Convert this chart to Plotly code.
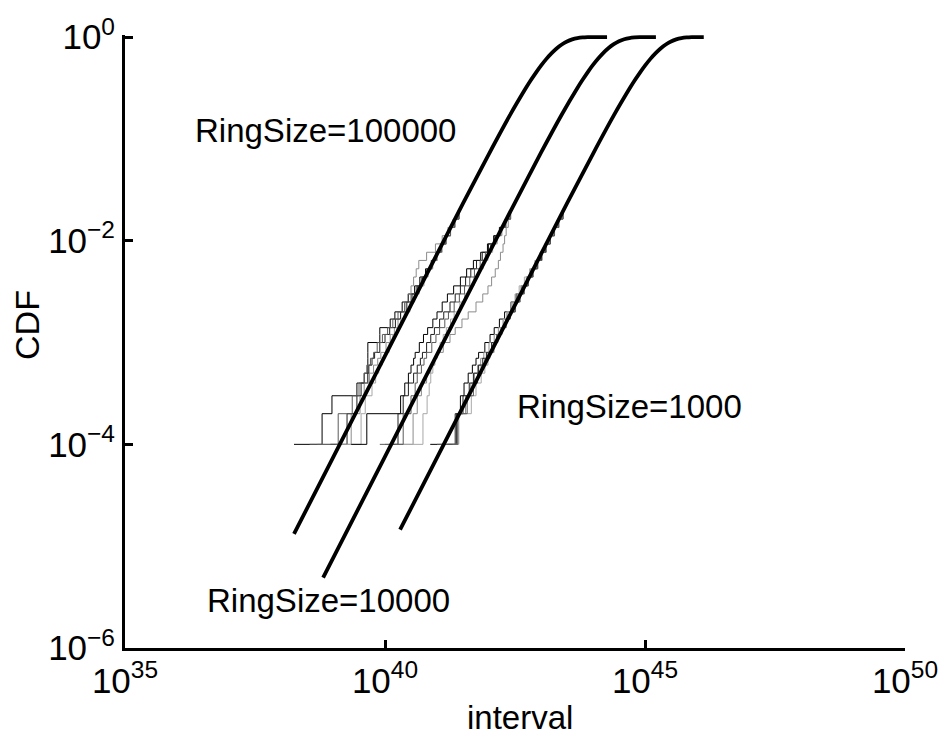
import numpy as np
import plotly.graph_objects as go

# ---- data -----------------------------------------------------------------
# Number of samples behind each empirical CDF, and the sample counts at which
# the step curves are drawn.
N_SAMPLES = 10000
COUNTS = [1, 2, 3, 4, 5, 6, 7, 8, 10, 12, 14, 17, 20, 25, 30, 36, 44, 53, 64,
          77, 93, 112, 135, 163, 196]

# Empirical CDFs: log10(interval) reached at each count in COUNTS.
# RingSize = 100000
EMP_100000 = [
    [38.25, 38.79, 38.98, 39.46, 39.67, 39.67, 39.67, 39.67, 39.67, 39.90, 39.90,
     40.10, 40.19, 40.33, 40.45, 40.57, 40.67, 40.78, 40.89, 40.98, 41.08, 41.17,
     41.26, 41.34, 41.42],
    [38.70, 39.35, 39.52, 39.60, 39.70, 39.78, 39.86, 39.92, 40.02, 40.10, 40.18,
     40.25, 40.30, 40.38, 40.44, 40.50, 40.55, 40.60, 40.65, 40.80, 40.97, 41.10,
     41.21, 41.31, 41.40],
    [38.95, 39.27, 39.46, 39.54, 39.60, 39.69, 39.75, 39.80, 39.90, 40.00, 40.09,
     40.20, 40.30, 40.42, 40.52, 40.62, 40.72, 40.81, 40.91, 41.00, 41.09, 41.18,
     41.26, 41.34, 41.42],
    [39.05, 39.54, 39.62, 39.75, 39.82, 39.88, 39.95, 40.00, 40.08, 40.15, 40.22,
     40.30, 40.37, 40.48, 40.57, 40.66, 40.75, 40.83, 40.92, 41.01, 41.10, 41.18,
     41.26, 41.34, 41.42],
    [38.55, 39.10, 39.37, 39.50, 39.60, 39.65, 39.72, 39.78, 39.85, 39.95, 40.05,
     40.15, 40.25, 40.38, 40.50, 40.60, 40.70, 40.80, 40.90, 40.99, 41.08, 41.17,
     41.26, 41.34, 41.42],
]
# RingSize = 10000
EMP_10000 = [
    [39.35, 39.65, 40.30, 40.38, 40.45, 40.50, 40.55, 40.58, 40.66, 40.74, 40.82,
     40.92, 41.00, 41.10, 41.20, 41.32, 41.45, 41.57, 41.70, 41.84, 41.97, 42.09,
     42.20, 42.31, 42.41],
    [40.00, 40.54, 40.62, 40.70, 40.80, 40.88, 40.95, 41.00, 41.12, 41.25, 41.35,
     41.48, 41.60, 41.75, 41.88, 41.98, 42.05, 42.12, 42.18, 42.22, 42.27, 42.30,
     42.33, 42.37, 42.42],
    [40.10, 40.25, 40.35, 40.45, 40.55, 40.62, 40.68, 40.72, 40.80, 40.88, 40.95,
     41.05, 41.13, 41.25, 41.35, 41.45, 41.55, 41.65, 41.76, 41.87, 41.99, 42.10,
     42.21, 42.32, 42.41],
    [40.20, 40.73, 40.81, 40.85, 40.88, 40.92, 40.96, 41.00, 41.06, 41.12, 41.18,
     41.26, 41.33, 41.44, 41.53, 41.62, 41.71, 41.80, 41.89, 41.98, 42.07, 42.16,
     42.25, 42.33, 42.41],
    [39.90, 40.35, 40.50, 40.58, 40.62, 40.70, 40.75, 40.80, 40.90, 40.98, 41.05,
     41.15, 41.22, 41.33, 41.43, 41.53, 41.63, 41.72, 41.83, 41.93, 42.03, 42.13,
     42.23, 42.32, 42.41],
]
# RingSize = 1000
EMP_1000 = [
    [40.87, 41.38, 41.45, 41.52, 41.60, 41.68, 41.75, 41.80, 41.92, 42.02, 42.10,
     42.20, 42.30, 42.42, 42.52, 42.62, 42.72, 42.81, 42.90, 42.99, 43.08, 43.17,
     43.25, 43.33, 43.42],
    [41.05, 41.40, 41.55, 41.65, 41.72, 41.78, 41.84, 41.90, 42.00, 42.10, 42.18,
     42.27, 42.35, 42.46, 42.55, 42.63, 42.72, 42.82, 42.92, 43.01, 43.09, 43.18,
     43.26, 43.34, 43.42],
    [41.20, 41.35, 41.50, 41.62, 41.70, 41.80, 41.88, 41.95, 42.05, 42.15, 42.23,
     42.32, 42.40, 42.50, 42.58, 42.66, 42.75, 42.84, 42.93, 43.01, 43.09, 43.18,
     43.26, 43.34, 43.42],
    [41.30, 41.42, 41.66, 41.75, 41.85, 41.92, 41.98, 42.02, 42.10, 42.16, 42.22,
     42.28, 42.34, 42.42, 42.50, 42.58, 42.68, 42.78, 42.88, 42.98, 43.07, 43.16,
     43.25, 43.33, 43.42],
    [41.00, 41.40, 41.58, 41.70, 41.78, 41.85, 41.92, 41.98, 42.08, 42.17, 42.25,
     42.33, 42.41, 42.51, 42.60, 42.68, 42.76, 42.85, 42.94, 43.02, 43.10, 43.18,
     43.26, 43.34, 43.42],
]
EMP_COLORS = ["#000000", "#8c8c8c", "#1e1e1e", "#a8a8a8", "#5a5a5a"]

# Theoretical CDFs: log10(interval) and CDF value.
THEORY_100000_EXP = [38.25, 39.0, 40.0, 41.0, 41.5, 42.0, 42.4, 42.7, 42.8, 42.9,
                     43.0, 43.1, 43.2, 43.3, 43.4, 43.5, 43.6, 43.7, 43.8, 43.9,
                     44.0, 44.1, 44.27]
THEORY_100000_CDF = [1.32e-5, 7.41e-5, 7.41e-4, 7.38e-3, 0.0232, 0.0714, 0.170,
                     0.310, 0.374, 0.445, 0.524, 0.607, 0.691, 0.772, 0.845,
                     0.904, 0.948, 0.976, 0.991, 0.997, 0.9994, 0.9999, 1.0]
THEORY_10000_EXP = [38.81, 40.0, 41.0, 42.0, 42.5, 43.0, 43.4, 43.7, 43.8, 43.9,
                    44.0, 44.1, 44.2, 44.3, 44.4, 44.5, 44.6, 44.7, 44.8, 44.9,
                    45.0, 45.1, 45.21]
THEORY_10000_CDF = [4.9e-6, 7.59e-5, 7.59e-4, 7.56e-3, 0.0237, 0.0731, 0.1735,
                    0.316, 0.380, 0.453, 0.532, 0.615, 0.6995, 0.780, 0.851,
                    0.909, 0.951, 0.978, 0.9917, 0.9976, 0.9995, 0.99993, 1.0]
THEORY_1000_EXP = [40.29, 41.0, 42.0, 43.0, 43.5, 44.0, 44.4, 44.7, 44.8, 44.9,
                   45.0, 45.1, 45.2, 45.3, 45.4, 45.5, 45.6, 45.7, 45.8, 45.9,
                   46.0, 46.13]
THEORY_1000_CDF = [1.45e-5, 7.41e-5, 7.41e-4, 7.38e-3, 0.0232, 0.0714, 0.170,
                   0.310, 0.374, 0.445, 0.524, 0.607, 0.691, 0.772, 0.845,
                   0.904, 0.948, 0.976, 0.991, 0.997, 0.9994, 1.0]

X_TICK_EXP = [35, 40, 45, 50]
Y_TICK_EXP = [0, -2, -4, -6]

FONT = "Liberation Sans, Arial, Helvetica, sans-serif"

# ---- figure -----------------------------------------------------------------
fig = go.Figure()

cdf_levels = np.array(COUNTS) / N_SAMPLES
for group in (EMP_100000, EMP_10000, EMP_1000):
    for series, color in zip(group, EMP_COLORS):
        fig.add_trace(go.Scatter(
            x=np.power(10.0, series), y=cdf_levels, mode="lines",
            line=dict(color=color, width=1, shape="hv"),
            showlegend=False, hoverinfo="skip"))

for xs, ys in ((THEORY_100000_EXP, THEORY_100000_CDF),
               (THEORY_10000_EXP, THEORY_10000_CDF),
               (THEORY_1000_EXP, THEORY_1000_CDF)):
    fig.add_trace(go.Scatter(
        x=np.power(10.0, xs), y=ys, mode="lines",
        line=dict(color="black", width=3.8, shape="spline", smoothing=0.6),
        showlegend=False, hoverinfo="skip"))

tick_font = dict(family=FONT, size=35, color="black")
axis_style = dict(
    tickfont=tick_font, ticks="inside", ticklen=8, tickwidth=2.5,
    tickcolor="black", showline=True, linecolor="black", linewidth=3,
    ticklabeloverflow="allow", automargin=False,
    showgrid=False, zeroline=False, mirror=False)
fig.update_xaxes(
    type="log", range=[35, 50],
    tickvals=[10.0 ** e for e in X_TICK_EXP],
    ticktext=[f"10<sup>{e}</sup>" for e in X_TICK_EXP],
    **axis_style)
fig.update_yaxes(
    type="log", range=[-6, 0.02],
    tickvals=[10.0 ** e for e in Y_TICK_EXP],
    ticktext=[f"10<sup>{'−' if e < 0 else ''}{abs(e)}</sup>" for e in Y_TICK_EXP],
    **axis_style)

label_font = dict(family=FONT, size=33, color="black")
annotations = [
    dict(x=36.31, y=-0.914, xref="x", yref="y", text="RingSize=100000",
         xanchor="left", yanchor="middle", showarrow=False, font=label_font),
    dict(x=42.5, y=-3.63, xref="x", yref="y", text="RingSize=1000",
         xanchor="left", yanchor="middle", showarrow=False, font=label_font),
    dict(x=36.54, y=-5.53, xref="x", yref="y", text="RingSize=10000",
         xanchor="left", yanchor="middle", showarrow=False, font=label_font),
    dict(x=0.506, y=-0.1126, xref="paper", yref="paper", text="interval",
         xanchor="center", yanchor="middle", showarrow=False, font=label_font),
    dict(x=-0.1256, y=0.527, xref="paper", yref="paper", text="CDF",
         textangle=-90, xanchor="center", yanchor="middle", showarrow=False,
         font=dict(family=FONT, size=34, color="black")),
]

fig.update_layout(
    width=938, height=738,
    margin=dict(l=125, r=33, t=35, b=90),
    paper_bgcolor="white", plot_bgcolor="white",
    annotations=annotations,
    font=dict(family=FONT, color="black"),
)

fig.write_html("out.html")
